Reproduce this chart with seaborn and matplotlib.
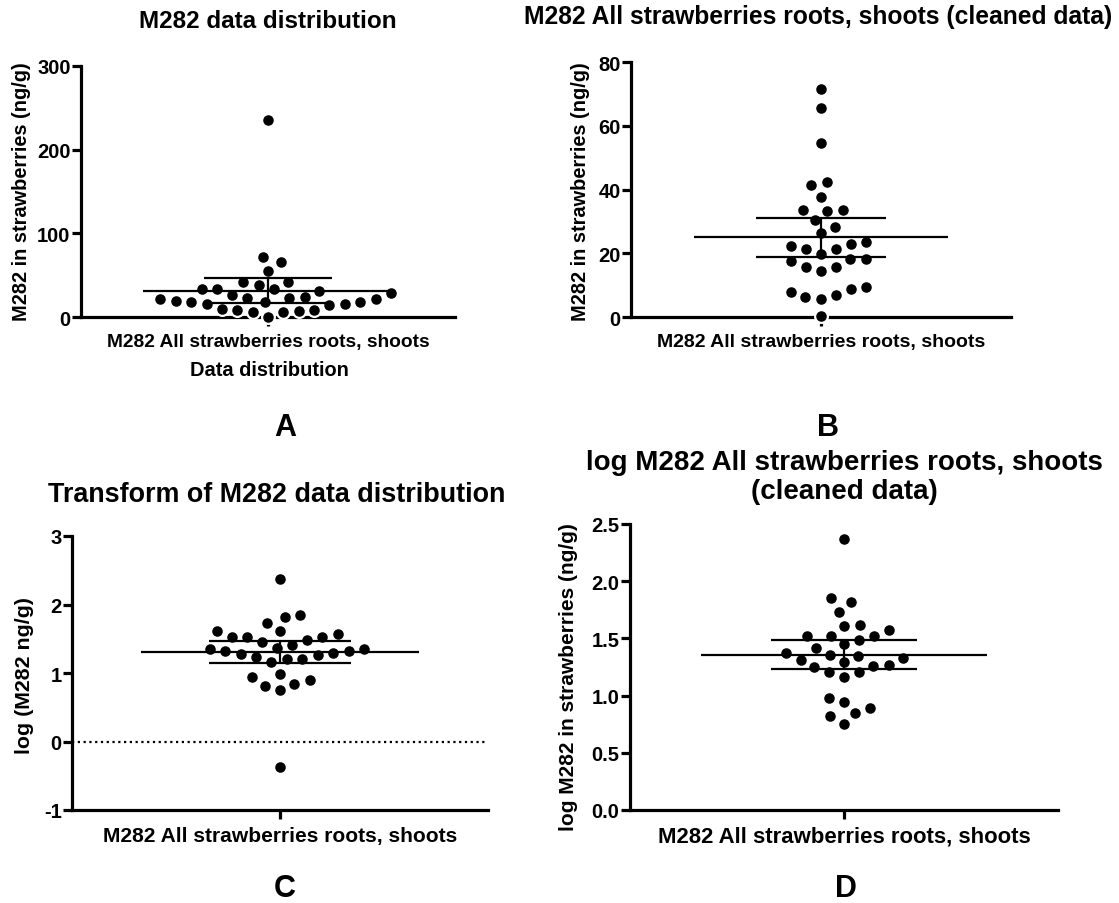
import numpy as np
import pandas as pd
import matplotlib
matplotlib.use("Agg")
import matplotlib.pyplot as plt
import seaborn as sns

# ---------------- data ----------------
group_label = "M282 All strawberries roots, shoots"

a_values = [235.0, 71.6, 65.5, 54.6, 42.2, 41.4, 37.7, 33.6, 33.6, 33.3, 30.5,
            28.1, 26.2, 23.4, 22.9, 22.3, 21.3, 21.3, 19.7, 18.3, 18.1, 17.6,
            15.7, 15.7, 14.5, 9.5, 8.7, 7.9, 6.8, 6.4, 5.6, 0.4]
b_values = [71.6, 65.5, 54.6, 42.2, 41.4, 37.7, 33.6, 33.6, 33.3, 30.5,
            28.1, 26.2, 23.4, 22.9, 22.3, 21.3, 21.3, 19.7, 18.3, 18.1, 17.6,
            15.7, 15.7, 14.5, 9.5, 8.7, 7.9, 6.8, 6.4, 5.6, 0.3]
c_values = [2.368, 1.847, 1.823, 1.736, 1.614, 1.614, 1.575, 1.531, 1.531, 1.531,
            1.483, 1.454, 1.410, 1.371, 1.356, 1.347, 1.322, 1.322, 1.298, 1.274,
            1.259, 1.240, 1.210, 1.201, 1.162, 0.982, 0.943, 0.899, 0.846, 0.812,
            0.754, -0.379]
d_values = [2.370, 1.851, 1.816, 1.735, 1.621, 1.612, 1.574, 1.525, 1.525, 1.525,
            1.487, 1.452, 1.417, 1.370, 1.359, 1.350, 1.329, 1.315, 1.292, 1.271,
            1.262, 1.248, 1.204, 1.204, 1.160, 0.980, 0.941, 0.892, 0.848, 0.819,
            0.752]

a_ticks = [0, 100, 200, 300]
b_ticks = [0, 20, 40, 60, 80]
c_ticks = [-1, 0, 1, 2, 3]
d_ticks = [0.0, 0.5, 1.0, 1.5, 2.0, 2.5]
a_ticklabels = ["0", "100", "200", "300"]
b_ticklabels = ["0", "20", "40", "60", "80"]
c_ticklabels = ["-1", "0", "1", "2", "3"]
d_ticklabels = ["0.0", "0.5", "1.0", "1.5", "2.0", "2.5"]

# ---------------- style ----------------
sns.set_theme(style="ticks")
plt.rcParams["font.family"] = ["Liberation Sans", "DejaVu Sans"]
plt.rcParams["font.weight"] = "bold"
plt.rcParams["axes.labelweight"] = "bold"
plt.rcParams["text.color"] = "black"
plt.rcParams["axes.labelcolor"] = "black"
plt.rcParams["xtick.color"] = "black"
plt.rcParams["ytick.color"] = "black"

W, H = 1119, 904
fig = plt.figure(figsize=(W / 100, H / 100), dpi=100)
fig.patch.set_facecolor("white")


def rect(x0, y0, x1, y1):
    return [x0 / W, 1 - y1 / H, (x1 - x0) / W, (y1 - y0) / H]


def ftext(x, y, s, size, **kw):
    fig.text(x / W, 1 - y / H, s, fontsize=size, fontweight="bold", color="black",
             ha=kw.pop("ha", "center"), va=kw.pop("va", "center"), **kw)


try:
    from scipy import stats

    def tcrit(n):
        return stats.t.ppf(0.975, n - 1)
except Exception:
    def tcrit(n):
        return 2.04


def panel(ax, values, ylim, ticks, ticklabels, xlab_size, tick_size=14.5):
    df = pd.DataFrame({"group": [group_label] * len(values), "value": values})
    sns.swarmplot(data=df, x="group", y="value", ax=ax, color="black",
                  size=9.2, linewidth=1.6, edgecolor="white", zorder=3)
    for coll in ax.collections:
        coll.set_clip_on(False)
    v = np.asarray(values, dtype=float)
    n = len(v)
    m = v.mean()
    ci = tcrit(n) * v.std(ddof=1) / np.sqrt(n)
    ax.hlines(m, -0.335, 0.335, color="black", lw=1.6, zorder=6, clip_on=False)
    ax.hlines([m - ci, m + ci], -0.17, 0.17, color="black", lw=1.6, zorder=6)
    ax.vlines(0, m - ci, m + ci, color="black", lw=1.6, zorder=6)
    ax.set_xlim(-0.5, 0.5)
    ax.set_ylim(*ylim)
    ax.set_yticks(ticks)
    ax.set_yticklabels(ticklabels, fontsize=tick_size, fontweight="bold")
    ax.set_xticks([0])
    ax.set_xticklabels([group_label], fontsize=xlab_size, fontweight="bold")
    ax.set_xlabel("")
    ax.set_ylabel("")
    ax.set_facecolor("white")
    for side in ("top", "right"):
        ax.spines[side].set_visible(False)
    for side in ("left", "bottom"):
        ax.spines[side].set_linewidth(2.3)
        ax.spines[side].set_color("black")
    ax.tick_params(axis="both", direction="out", length=6.5, width=2.3,
                   color="black", labelcolor="black")
    ax.tick_params(axis="y", pad=1)
    ax.tick_params(axis="x", pad=5)


axA = fig.add_axes(rect(81, 67, 455, 318))
axB = fig.add_axes(rect(631, 63, 1011, 318))
axC = fig.add_axes(rect(72, 537, 488, 811))
axD = fig.add_axes(rect(630, 525, 1058, 811))

panel(axA, a_values, (0, 300), a_ticks, a_ticklabels, 13.8)
panel(axB, b_values, (0, 80), b_ticks, b_ticklabels, 14.0)
panel(axC, c_values, (-1, 3), c_ticks, c_ticklabels, 15.1)
panel(axD, d_values, (0, 2.5), d_ticks, d_ticklabels, 15.9)
axC.axhline(0, color="black", lw=1.6, ls=(0, (1, 1.6)), zorder=2)

# titles
ftext(268, 22, "M282 data distribution", 17.5)
ftext(818, 17, "M282 All strawberries roots, shoots (cleaned data)", 17.7)
ftext(277, 495, "Transform of M282 data distribution", 19.4)
ftext(844, 478, "log M282 All strawberries roots, shoots\n(cleaned data)", 20,
      linespacing=1.15)

# y labels
ftext(22, 192, "M282 in strawberries (ng/g)", 14.4, rotation=90)
ftext(580, 192, "M282 in strawberries (ng/g)", 14.4, rotation=90)
ftext(25, 675, "log (M282 ng/g)", 15.4, rotation=90)
ftext(568, 677, "log M282 in strawberries (ng/g)", 15.0, rotation=90)

# extra x label for panel A
ftext(269, 371, "Data distribution", 14.4)

# panel letters
ftext(285, 428, "A", 22)
ftext(828, 428, "B", 22)
ftext(285, 889, "C", 22)
ftext(846, 889, "D", 22)

fig.savefig("out.png", dpi=100, facecolor="white")
